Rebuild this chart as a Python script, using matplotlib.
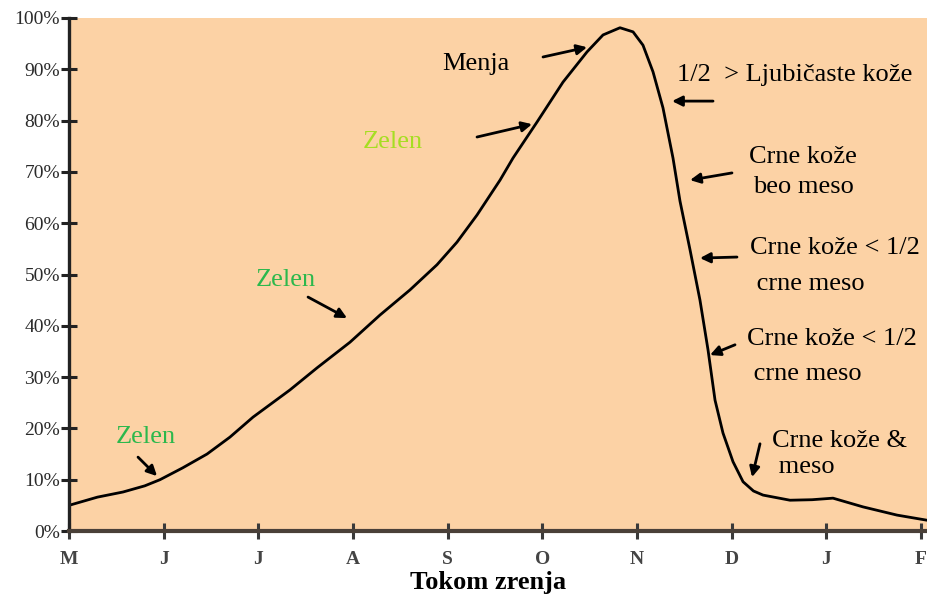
import matplotlib
matplotlib.use("Agg")
import matplotlib.pyplot as plt

# ---- data ----
months = ["M", "J", "J", "A", "S", "O", "N", "D", "J", "F"]
y_ticks = [0, 10, 20, 30, 40, 50, 60, 70, 80, 90, 100]
y_labels = [f"{v}%" for v in y_ticks]
curve_x = [0.000, 0.300, 0.570, 0.800, 0.961, 1.200, 1.458, 1.700, 1.944, 2.334,
           2.620, 2.968, 3.285, 3.602, 3.887, 4.098, 4.310, 4.553, 4.690, 4.943,
           5.218, 5.472, 5.641, 5.820, 5.958, 6.063, 6.169, 6.274, 6.380, 6.454,
           6.560, 6.665, 6.750, 6.824, 6.908, 7.014, 7.120, 7.230, 7.331, 7.616,
           7.850, 8.070, 8.387, 8.746, 9.063]
curve_y = [5.0, 6.6, 7.6, 8.8, 10.0, 12.3, 15.0, 18.3, 22.2, 27.5,
           31.8, 36.8, 42.1, 47.0, 51.9, 56.3, 61.6, 68.4, 72.7, 79.7,
           87.5, 93.4, 96.7, 98.1, 97.3, 94.7, 89.5, 82.5, 72.7, 64.3,
           54.8, 45.0, 35.3, 25.5, 19.1, 13.5, 9.6, 7.8, 7.0, 6.0,
           6.1, 6.4, 4.7, 3.1, 2.1]
xlabel = "Tokom zrenja"

# annotations: text, text position, arrow tail, arrow head, color, alignment, line spacing
notes = [
    ("Menja", (4.30, 91.0), (5.007, 92.4), (5.472, 94.3), "black", "center", 1.0),
    ("1/2  > Ljubičaste kože", (6.42, 88.9), (6.803, 83.8), (6.37, 83.8), "black", "left", 1.0),
    ("Crne kože\nbeo meso", (7.753, 70.0), (7.003, 69.8), (6.56, 68.4), "black", "center", 1.5),
    ("Crne kože < 1/2\n crne meso", (7.193, 51.7), (7.056, 53.4), (6.665, 53.2), "black", "left", 1.8),
    ("Crne kože < 1/2\n crne meso", (7.162, 34.0), (7.035, 36.3), (6.771, 34.3), "black", "left", 1.8),
    ("Crne kože &\n meso", (7.426, 15.0), (7.299, 17.0), (7.215, 10.5), "black", "left", 1.2),
    ("Zelen", (3.422, 75.8), (4.31, 76.8), (4.891, 79.3), "#a6de22", "center", 1.0),
    ("Zelen", (2.292, 48.9), (2.525, 45.6), (2.937, 41.5), "#2cb84c", "center", 1.0),
    ("Zelen", (0.813, 18.3), (0.729, 14.4), (0.93, 10.7), "#2cb84c", "center", 1.0),
]

serif = ["Liberation Serif", "DejaVu Serif"]
peach = "#fcd2a5"

fig = plt.figure(figsize=(9.27, 5.98), dpi=100)
ax = fig.add_axes([69 / 927, 67 / 598, 858 / 927, 513 / 598])
ax.set_facecolor(peach)

ax.plot(curve_x, curve_y, color="black", lw=2.0, solid_joinstyle="round",
        solid_capstyle="round")

ax.set_xlim(0, 9.063)
ax.set_ylim(0, 100)
ax.set_xticks(range(len(months)))
ax.set_xticklabels(months, fontfamily=serif, fontweight="bold", fontsize=14, color="#444444")
ax.set_yticks(y_ticks)
ax.set_yticklabels(y_labels, fontfamily=serif, fontsize=14, color="#2a2a2a")
ax.tick_params(axis="x", direction="inout", length=11, width=2.2, color="#3a3a3a", pad=9)
ax.tick_params(axis="y", direction="inout", length=11, width=2.2, color="#222222", pad=1)

for s in ["top", "right"]:
    ax.spines[s].set_visible(False)
ax.spines["left"].set_linewidth(2.4)
ax.spines["left"].set_color("#222222")
ax.spines["bottom"].set_linewidth(3.0)
ax.spines["bottom"].set_color("#4a4038")

fig.text(488 / 927, 1 - 582 / 598, xlabel, fontfamily=serif, fontweight="bold",
         fontsize=19, ha="center", va="center", color="black")

for text, tpos, tail, head, col, ha, ls in notes:
    ax.text(tpos[0], tpos[1], text, fontfamily=serif, fontsize=19, color=col,
            ha=ha, va="center", linespacing=ls)
    ax.annotate("", xy=head, xytext=tail,
                arrowprops=dict(arrowstyle="-|>,head_length=0.6,head_width=0.3",
                                color="black", lw=2.0, shrinkA=0, shrinkB=0))

fig.savefig("out.png", dpi=100)
